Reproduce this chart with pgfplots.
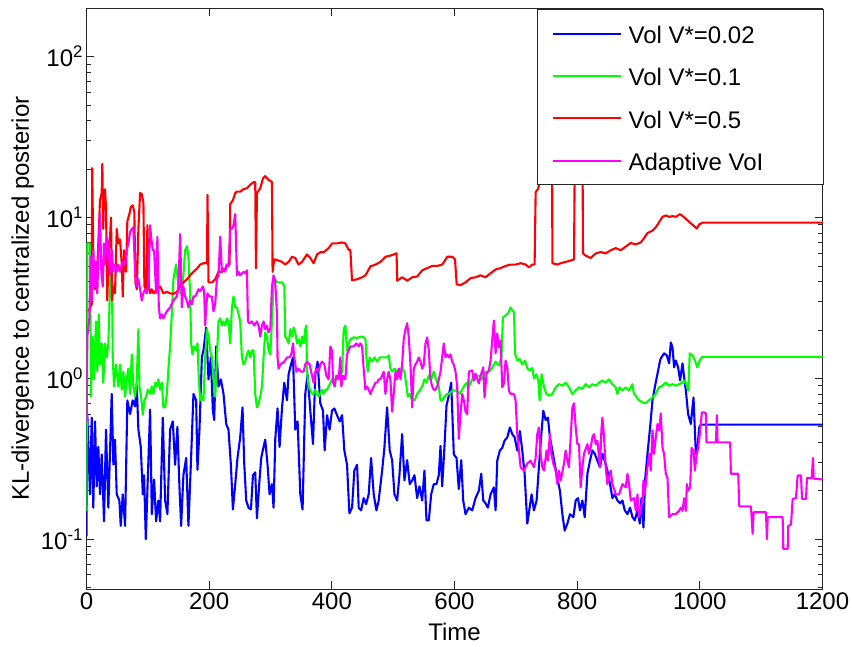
\documentclass[border=0pt]{standalone}
\usepackage{fontspec}
\setmainfont{Liberation Sans}
\usepackage{pgfplots}
\usepackage{pgfplotstable}
\pgfplotsset{compat=1.18}
\definecolor{mblue}{RGB}{0,0,255}
\definecolor{mgreen}{RGB}{0,255,0}
\definecolor{mred}{RGB}{255,0,0}
\definecolor{mmag}{RGB}{255,0,255}

\pgfplotstableread{
t v
0 0.104
1.3 0.60
5.7 0.19
8.5 0.57
11.1 0.157
13.9 0.54
16.7 0.213
19.3 0.375
22.0 0.19
24.8 0.336
28.6 0.129
31.8 0.48
35.6 0.157
38.4 0.356
41.1 0.80
43.8 0.291
46.5 0.416
49.3 0.19
53.6 0.174
55.8 0.121
59.1 0.19
62.9 0.121
66.6 0.73
71.0 0.60
75.4 0.73
79.2 0.67
82.0 0.89
84.6 0.48
88.5 0.375
91.8 0.19
93.9 0.25
96.7 0.10
99.9 0.235
103.7 0.64
106.5 0.143
110.2 0.235
113.5 0.129
117.2 0.174
120.0 0.129
124.4 0.57
128.2 0.174
131.9 0.143
136.3 0.48
140.7 0.54
144.5 0.29
148.2 0.50
151.5 0.213
154.3 0.121
158.0 0.25
162.5 0.32
166.2 0.121
170.1 0.29
174.4 0.80
178.8 0.73
180.9 0.27
184.2 0.48
188.1 1.35
190.7 1.49
195.1 2.07
198.9 0.985
202.8 1.35
206.0 0.63
208.2 0.55
211.4 1.58
215.2 0.89
219.1 0.985
223.4 0.80
227.8 0.52
231.5 0.48
235.4 0.29
238.7 0.153
242.5 0.22
246.2 0.32
250.6 0.43
254.4 0.66
257.1 0.30
260.4 0.174
264.2 0.157
268.1 0.153
271.4 0.25
275.1 0.26
277.9 0.135
281.6 0.22
284.9 0.32
288.7 0.375
291.4 0.416
295.2 0.29
298.5 0.19
302.4 0.22
305.0 0.157
307.8 0.42
311.5 0.65
314.8 0.375
318.7 0.65
322.5 0.94
326.9 0.73
329.5 1.06
333.4 1.22
336.7 1.35
340.4 0.48
344.2 0.54
348.6 0.19
352.3 0.153
356.7 0.80
360.5 1.06
364.9 0.63
369.3 0.39
373.1 1.06
376.8 1.27
381.2 0.70
385.6 0.63
388.3 0.356
392.2 0.59
396.4 0.48
400.3 0.63
404.1 0.65
408.5 0.59
412.8 0.54
416.7 0.59
420.4 0.356
424.8 0.29
428.6 0.145
433.0 0.157
436.7 0.267
441.2 0.29
443.8 0.157
447.7 0.151
451.9 0.18
455.8 0.165
460.1 0.19
464.0 0.32
468.3 0.19
472.7 0.151
476.4 0.174
482.0 0.267
485.7 0.37
490.1 0.66
494.4 0.356
498.3 0.31
502.1 0.19
506.5 0.174
510.2 0.25
514.6 0.45
518.4 0.232
522.8 0.31
527.0 0.22
531.0 0.232
534.7 0.25
539.1 0.18
542.9 0.213
547.3 0.174
551.0 0.267
554.3 0.131
558.1 0.131
562.0 0.19
566.2 0.22
570.6 0.22
574.4 0.25
577.2 0.38
579.9 0.213
583.7 0.38
587.0 0.68
590.7 0.78
594.6 0.94
598.9 0.336
603.3 0.32
607.0 0.205
611.0 0.31
614.2 0.174
618.0 0.143
623.4 0.157
628.9 0.151
634.3 0.18
639.7 0.20
643.6 0.255
646.9 0.174
650.6 0.167
654.4 0.157
658.8 0.19
664.2 0.21
667.0 0.151
669.7 0.308
674.0 0.356
677.9 0.37
681.6 0.41
686.1 0.43
690.3 0.495
694.2 0.45
698.0 0.43
702.4 0.356
706.6 0.47
710.5 0.356
714.3 0.255
718.7 0.125
722.5 0.157
725.7 0.19
729.5 0.151
733.9 0.174
737.6 0.28
741.6 0.45
744.8 0.63
748.6 0.55
752.3 0.57
755.6 0.43
759.5 0.356
763.3 0.295
767.7 0.24
771.9 0.20
775.9 0.143
779.6 0.113
784.0 0.125
788.3 0.143
793.8 0.137
797.6 0.174
801.3 0.18
804.6 0.151
808.5 0.174
812.3 0.137
816.7 0.255
820.9 0.308
824.8 0.356
828.6 0.34
833.0 0.308
837.2 0.28
841.2 0.34
844.9 0.308
849.3 0.267
853.6 0.22
857.5 0.18
861.3 0.19
865.7 0.174
869.9 0.167
873.8 0.174
877.6 0.151
882.0 0.143
886.2 0.157
890.2 0.137
893.9 0.131
898.3 0.151
902.1 0.125
904.8 0.18
908.1 0.118
910.7 0.232
914.6 0.34
918.9 0.495
922.8 0.73
926.6 0.88
931.0 1.07
935.2 1.29
936.4 1.33
941.7 1.43
946.1 1.39
949.9 1.24
952.7 1.67
955.4 1.56
958.1 1.17
960.8 1.29
964.6 1.17
967.8 0.97
971.8 1.24
974.4 1.01
977.2 0.84
980.9 0.60
985.3 0.52
989.7 0.76
993.5 0.34
996.3 0.37
998.9 0.495
1001.7 0.516
1200 0.516
}\tblue

\pgfplotstableread{
t v
0 0.15
1.3 6.9
5.7 6.9
7.3 0.77
10.0 1.82
12.2 0.985
15.5 2.26
17.7 1.10
19.9 2.50
22.0 1.22
24.8 1.65
27.4 0.94
30.2 1.65
32.9 1.35
35.6 1.65
38.4 3.73
41.1 5.66
42.8 1.35
44.9 0.89
48.2 1.22
52.0 0.89
54.7 1.22
57.5 0.85
60.1 1.10
62.9 0.77
65.6 0.985
68.2 1.15
71.0 0.80
73.8 1.41
76.4 0.89
79.2 0.77
82.0 0.985
84.6 2.02
86.3 0.89
89.0 0.77
91.8 0.595
94.4 0.73
97.2 0.77
99.9 0.85
103.7 0.80
106.5 0.89
109.1 0.80
111.9 0.94
114.6 0.89
117.2 0.985
120.0 0.85
122.8 0.94
125.4 0.66
128.2 0.66
131.0 0.80
133.6 1.15
136.3 1.58
139.1 2.50
141.7 4.13
146.1 5.12
148.9 4.13
151.5 3.38
155.4 3.58
158.0 4.37
160.8 6.26
163.6 6.63
166.2 5.66
169.0 3.38
170.6 1.65
172.7 1.41
175.5 1.58
178.8 1.49
180.9 1.65
183.2 0.985
185.3 0.73
188.1 0.77
190.7 0.73
193.5 1.35
196.3 2.02
198.9 1.82
201.7 1.49
204.5 1.35
207.1 0.985
209.9 0.77
212.6 1.35
215.2 2.26
218.0 2.36
220.8 2.13
223.4 2.26
226.2 2.13
229.0 2.36
231.5 2.26
234.3 1.65
237.1 2.76
239.7 3.23
242.5 2.76
245.3 2.76
247.9 2.50
250.6 2.26
253.4 1.35
256.0 1.22
258.8 1.27
261.6 1.41
264.2 1.49
267.0 1.35
269.8 1.49
272.4 1.49
275.1 0.80
277.9 0.66
280.6 0.70
283.3 0.77
286.1 0.89
288.7 1.35
291.4 1.93
294.2 1.82
297.0 1.49
299.6 1.41
302.4 2.26
305.0 3.73
307.8 4.13
310.6 3.95
314.8 3.95
319.2 3.95
322.5 3.73
324.1 1.82
326.9 1.75
329.5 1.65
332.3 2.02
335.1 1.82
337.7 2.07
340.4 1.93
343.2 1.65
345.8 1.75
348.6 1.58
351.4 1.82
354.0 1.65
356.7 2.02
358.4 2.13
359.5 1.10
362.1 0.89
364.9 0.85
367.7 0.80
370.3 0.80
373.1 0.85
375.9 0.80
378.5 0.77
381.2 0.80
384.0 0.85
386.6 0.80
389.4 0.85
392.2 0.85
394.8 0.89
397.6 0.94
400.3 0.985
402.9 0.985
405.7 0.985
408.5 1.04
411.1 0.985
413.9 1.04
416.7 1.10
419.3 2.02
422.1 2.13
424.8 1.49
427.5 1.65
430.2 1.75
435.6 1.80
441.2 1.78
446.6 1.82
452.0 1.80
454.8 1.75
456.4 1.35
458.5 1.10
461.8 1.35
465.8 1.27
469.5 1.35
473.9 1.27
478.1 1.35
482.0 1.35
485.7 1.35
490.1 1.35
492.8 1.39
495.5 1.15
498.3 1.10
502.1 1.15
506.5 1.10
510.7 1.15
514.6 1.15
518.4 1.10
521.7 0.89
523.9 0.77
527.0 0.80
531.0 0.73
534.7 0.73
539.1 0.80
543.3 0.84
547.3 0.89
551.0 0.985
554.3 0.94
558.1 1.04
562.0 0.985
566.2 1.10
570.2 0.985
574.4 0.89
577.2 0.73
579.9 0.73
583.7 0.77
588.1 0.80
591.8 0.80
596.2 0.84
600.0 0.84
604.4 0.84
608.6 0.80
615.3 0.89
619.6 0.94
623.4 0.89
628.9 0.985
634.3 1.04
639.7 1.04
645.2 0.985
650.6 1.10
656.1 1.10
661.5 1.16
666.9 1.27
672.3 1.20
676.6 1.35
678.9 2.39
683.2 2.46
687.6 2.54
691.4 2.76
694.2 2.65
697.0 2.58
698.6 1.43
702.4 1.29
706.1 1.32
710.5 1.22
714.9 1.29
718.7 1.16
722.5 1.12
726.9 1.16
729.6 1.00
733.4 1.06
736.7 0.97
738.8 0.73
742.1 1.06
746.0 0.88
749.8 0.80
754.2 0.78
759.5 0.80
765.0 0.88
770.4 0.92
775.8 0.90
781.3 0.94
786.7 0.88
792.1 0.80
797.6 0.84
803.0 0.88
808.4 0.86
813.9 0.92
819.3 0.88
824.7 0.92
830.2 0.90
835.6 0.94
841.0 0.97
846.4 0.94
851.9 0.985
857.3 0.92
862.7 0.88
865.5 0.80
869.2 0.88
873.6 0.84
879.0 0.88
884.5 0.84
889.9 0.92
892.6 0.80
895.4 0.78
900.8 0.73
906.3 0.71
911.7 0.70
917.1 0.73
922.6 0.76
928.0 0.80
933.4 0.88
938.9 0.90
944.3 0.94
949.8 0.90
955.2 0.92
960.6 0.90
966.1 0.92
971.5 0.94
974.3 0.97
977.0 0.94
981.4 0.84
983.5 1.43
987.9 1.39
992.2 1.29
996.0 1.17
999.7 1.29
1003.9 1.36
1200 1.36
}\tgreen

\pgfplotstableread{
t v
2.9 2.61
8.5 2.89
9.3 20.3
11.1 5.66
13.9 3.58
16.7 4.13
19.3 6.9
22.0 12.8
24.8 14.2
25.8 21.6
27.4 8.5
28.6 14.2
30.2 15.0
31.8 11.6
33.9 3.05
36.2 6.26
38.4 7.6
40.0 10.0
41.6 3.05
43.8 3.73
46.5 3.38
49.3 8.5
51.9 6.9
54.7 7.3
57.5 5.12
59.1 3.23
61.2 6.26
64.5 4.6
66.6 9.5
69.9 10.5
72.2 11.6
75.4 11.9
78.0 10.8
79.7 3.95
82.0 3.58
84.6 8.5
87.4 14.2
90.2 14.0
92.8 12.3
94.4 3.73
97.2 3.58
99.3 8.96
101.6 3.73
103.7 3.38
106.5 3.58
109.1 3.38
114.6 3.58
120.0 3.73
125.4 3.38
131.0 3.45
136.3 3.38
141.7 3.35
147.3 3.45
152.6 3.73
158.0 3.95
163.6 4.13
169.0 4.37
174.4 4.6
179.9 4.8
185.3 5.1
190.7 5.2
196.5 5.2
197.3 13.8
198.9 3.95
204.5 3.95
209.9 4.13
215.2 4.6
220.8 4.6
226.2 4.8
229.0 5.1
233.3 5.1
234.3 12.1
238.7 12.8
242.5 14.2
245.3 14.5
250.6 14.5
256.0 15.0
261.6 15.2
267.0 16.0
272.4 16.6
275.1 16.6
276.3 4.83
277.9 14.2
283.3 15.2
287.7 17.5
291.4 18.1
296.9 17.1
299.6 16.9
302.4 16.6
303.4 4.6
306.1 5.5
313.2 5.4
318.7 5.3
324.1 5.1
329.5 5.3
335.1 5.7
340.4 5.6
345.8 5.1
351.4 5.3
359.5 5.9
364.9 5.6
370.3 5.2
375.9 5.9
381.2 6.08
386.6 6.08
394.8 6.45
400.3 6.9
408.5 6.9
416.7 7.0
422.1 6.9
427.5 6.3
430.2 6.3
432.9 4.07
441.2 4.13
449.4 4.25
454.8 4.37
463.0 4.97
471.2 5.1
479.4 5.3
487.5 5.7
495.7 5.8
501.2 5.9
505.5 6.0
506.6 4.05
514.8 4.25
522.9 4.05
531.1 4.25
539.3 4.3
547.4 4.7
555.6 4.85
563.8 5.0
572.0 5.0
580.1 5.1
588.3 5.7
596.5 5.7
600.8 5.5
603.6 3.84
609.9 3.8
618.0 3.95
626.2 4.2
634.3 4.25
642.5 4.37
650.6 4.25
658.8 4.5
667.0 4.75
675.2 4.85
683.3 5.0
691.5 5.1
699.7 5.1
707.8 5.2
716.0 5.1
721.4 4.9
726.9 5.1
730.6 5.1
732.3 14.4
736.0 15.0
739.3 16.6
741.0 40
759.0 40
759.6 5.2
767.7 5.1
773.2 5.2
781.3 5.3
789.5 5.4
794.9 5.5
796.5 40
808.5 40
809.5 5.98
813.9 5.8
822.0 5.6
830.2 5.98
838.4 6.1
846.5 5.98
854.7 6.26
862.9 6.45
871.0 6.26
879.2 6.6
887.4 6.95
895.5 6.8
903.7 7.0
909.1 7.45
914.6 8.0
922.8 8.3
928.2 8.7
933.6 9.35
939.1 10.1
944.5 10.3
949.9 10.1
955.4 10.2
960.8 10.1
967.8 10.5
973.4 10.1
978.8 9.7
985.3 9.2
990.7 8.84
995.1 8.54
998.9 9.06
1004.5 9.3
1200 9.3
}\tred

\pgfplotstableread{
t v
0.3 0.54
1.3 1.82
4.6 2.36
6.9 5.66
9.0 3.05
11.1 6.26
13.4 3.73
15.5 5.34
17.6 3.38
19.9 6.9
22.0 10.5
24.2 4.6
26.5 3.73
28.6 6.9
30.2 5.1
33.0 7.6
35.6 6.9
38.4 4.37
41.1 6.26
43.8 4.6
46.5 5.1
49.3 4.6
51.9 5.1
54.7 4.6
57.5 5.1
60.1 5.34
62.9 5.1
65.6 6.26
68.2 6.9
71.0 8.1
73.8 8.5
76.4 8.7
79.2 4.6
82.0 3.73
84.6 4.13
87.4 3.58
90.1 3.05
92.7 3.38
95.5 3.58
98.3 3.38
100.9 3.73
103.7 8.96
105.3 7.6
108.1 6.26
110.2 6.26
113.5 3.38
115.6 7.6
117.9 2.76
120.0 2.36
122.8 2.5
125.4 2.36
128.2 2.5
131.0 2.61
136.3 2.76
141.7 3.05
147.3 3.23
149.9 3.73
152.7 7.9
155.4 2.76
158.0 3.73
160.8 3.23
163.6 3.05
166.2 2.76
169.0 3.05
171.8 2.89
174.4 3.23
177.1 3.23
179.9 3.38
182.5 3.58
185.3 3.48
189.7 3.73
191.8 3.48
193.5 2.13
195.1 2.76
197.2 3.38
200.5 3.23
204.4 3.23
207.0 2.61
209.8 2.89
212.6 4.13
215.2 4.37
218.0 7.6
220.8 4.6
223.4 4.83
226.2 4.6
228.9 5.1
231.5 4.97
234.3 8.5
237.1 8.5
239.7 8.96
242.5 10.5
245.3 4.37
247.8 4.6
250.6 4.37
256.0 4.6
258.8 4.5
261.6 4.7
263.2 2.26
265.8 2.2
269.7 2.26
273.5 2.13
277.9 2.26
280.5 2.13
283.3 1.82
286.1 2.13
288.7 2.26
291.4 2.02
294.2 2.13
296.8 1.93
299.6 2.02
302.4 3.73
305.0 4.37
307.8 3.95
310.6 2.5
311.5 1.35
313.2 1.15
315.9 1.22
322.5 1.27
326.9 1.35
331.1 1.35
333.9 1.41
336.7 1.65
338.8 1.35
342.1 1.10
345.8 1.15
349.7 1.10
354.0 1.10
356.7 1.22
359.5 1.27
363.8 1.22
367.7 1.04
370.3 0.94
373.1 1.10
375.9 1.15
378.5 1.10
381.2 1.22
384.0 1.27
387.8 1.22
391.0 1.04
394.8 0.985
397.6 1.58
400.3 1.49
402.0 0.94
404.6 0.89
407.4 1.04
411.1 0.985
413.9 1.35
415.5 0.89
418.3 1.04
422.1 0.985
424.8 1.41
427.4 1.49
430.2 1.58
435.6 1.58
440.0 1.65
443.8 1.58
446.5 1.65
449.3 1.58
451.9 1.15
454.7 0.85
457.5 0.89
460.1 0.85
462.9 0.80
465.6 0.85
468.3 0.89
471.1 0.94
473.8 0.94
476.4 0.985
479.2 0.985
482.0 1.04
484.6 1.10
487.4 0.80
490.1 0.985
492.7 1.10
495.5 0.985
498.3 0.62
500.9 0.80
503.7 1.10
506.5 0.985
509.1 1.15
511.9 0.985
514.6 1.22
517.2 1.75
520.0 2.02
522.8 2.2
525.4 1.82
528.2 1.22
531.0 0.66
533.6 1.15
536.4 1.22
539.1 1.27
541.7 1.35
544.5 1.27
547.3 1.15
549.9 1.22
552.7 1.65
555.4 1.8
558.1 1.49
560.8 0.985
563.6 0.89
566.2 0.85
569.0 0.85
571.8 0.89
574.4 0.985
577.2 1.10
579.9 1.35
582.5 1.65
585.3 1.35
588.1 1.41
590.7 1.35
593.5 1.41
596.2 1.27
598.9 1.22
601.7 1.10
604.4 0.89
607.0 0.42
609.8 0.60
612.6 0.80
615.2 0.73
618.0 0.62
620.7 0.60
623.4 1.10
628.9 1.12
631.5 0.97
634.3 1.07
639.7 0.93
643.6 1.07
646.9 1.17
649.0 0.76
652.3 1.07
656.0 1.12
658.8 1.29
661.5 1.72
664.2 2.29
667.0 1.43
669.7 1.90
672.3 1.56
675.1 1.72
677.9 0.88
680.5 0.93
683.3 1.29
686.1 1.17
688.7 0.84
691.5 0.80
696.9 0.80
699.6 0.73
702.4 0.45
705.0 0.356
707.8 0.28
713.2 0.267
718.7 0.295
724.1 0.308
729.5 0.28
732.3 0.32
735.0 0.45
737.6 0.495
740.4 0.34
743.2 0.28
745.8 0.267
750.2 0.356
752.3 0.308
755.6 0.45
757.9 0.34
761.2 0.295
764.9 0.267
767.7 0.22
770.3 0.267
773.1 0.232
778.5 0.295
781.2 0.356
784.0 0.308
786.6 0.28
789.4 0.43
792.2 0.66
794.8 0.70
797.6 0.495
800.3 0.39
803.0 0.39
805.7 0.21
808.5 0.28
811.1 0.34
816.7 0.39
819.3 0.34
822.0 0.37
824.8 0.43
827.4 0.45
830.2 0.39
833.0 0.41
837.2 0.28
839.5 0.475
841.2 0.57
843.8 0.43
846.5 0.28
849.3 0.22
854.7 0.267
857.5 0.22
862.9 0.19
868.3 0.19
873.8 0.22
879.2 0.21
882.0 0.255
884.6 0.22
887.4 0.174
892.8 0.18
895.5 0.151
898.3 0.19
900.9 0.137
906.5 0.174
908.1 0.232
910.2 0.19
911.9 0.22
914.6 0.28
917.3 0.34
920.0 0.267
922.8 0.475
925.4 0.34
928.2 0.43
931.0 0.52
933.6 0.475
936.4 0.605
939.1 0.37
941.7 0.34
944.5 0.255
947.3 0.24
949.9 0.137
955.4 0.143
960.8 0.143
966.2 0.15
969.0 0.157
971.8 0.15
974.4 0.18
977.2 0.15
978.8 0.22
980.9 0.20
984.2 0.21
986.5 0.37
989.7 0.356
991.9 0.267
995.1 0.34
997.3 0.37
1000.6 0.475
1003.3 0.615
1007.1 0.615
1009.8 0.605
1010.9 0.40
1026.2 0.40
1027.8 0.59
1028.9 0.40
1049.5 0.40
1050.6 0.255
1062.6 0.255
1064.2 0.16
1083.3 0.16
1086.1 0.108
1087.7 0.147
1107.8 0.147
1109.4 0.10
1110.6 0.137
1135.0 0.137
1136.1 0.087
1143.2 0.087
1144.2 0.121
1148.6 0.123
1151.4 0.178
1156.8 0.18
1159.5 0.249
1164.9 0.249
1166.6 0.178
1173.1 0.178
1174.7 0.24
1182.4 0.24
1184.5 0.32
1185.7 0.238
1200 0.235
}\tmag

\begin{document}
\begin{tikzpicture}
\begin{axis}[
  name=ax,
  scale only axis,
  width=736pt, height=580.7pt,
  xmin=0, xmax=1200, ymin=0.049, ymax=200,
  ymode=log,
  xtick={0,200,...,1200},
  ytick={0.1,1,10,100},
  yticklabels={10\textsuperscript{-1},10\textsuperscript{0},10\textsuperscript{1},10\textsuperscript{2}},
  minor ytick={0.05,0.06,0.07,0.08,0.09,0.2,0.3,0.4,0.5,0.6,0.7,0.8,0.9,2,3,4,5,6,7,8,9,20,30,40,50,60,70,80,90,200},
  tick align=inside,
  major tick length=8pt, minor tick length=5pt,
  tick style={black!85, line width=0.8pt},
  axis line style={black!85, line width=0.8pt},
  tick label style={font=\fontsize{24}{28}\selectfont},
  label style={font=\fontsize{24}{28}\selectfont},
  /pgf/number format/assume math mode=true,
  /pgf/number format/1000 sep={},
  scaled x ticks=false,
  xlabel={Time},
  ylabel={KL-divergence to centralized posterior},
  xlabel style={yshift=-7pt},
  legend cell align=left,
  legend style={at={(1,1)}, anchor=north east, xshift=1.5pt, yshift=-1pt,
    draw=black!85, line width=0.8pt, fill=white,
    font=\fontsize{24}{28}\selectfont,
    inner xsep=14pt, inner ysep=9pt, row sep=12.2pt,
    nodes={inner sep=0pt, text height=25pt, text depth=5.1pt},
    /tikz/every odd column/.append style={column sep=7pt}},
  legend image code/.code={\draw[#1] (0pt,0pt) -- (68pt,0pt);},
  every axis plot/.append style={line width=2.1pt, line join=round},
]
\addplot[mblue] table[x=t,y=v] {\tblue};
\addlegendentry{\makebox[181pt][l]{Vol V*=0.02}}
\addplot[mgreen] table[x=t,y=v] {\tgreen};
\addlegendentry{\makebox[181pt][l]{Vol V*=0.1}}
\addplot[mred] table[x=t,y=v] {\tred};
\addlegendentry{\makebox[181pt][l]{Vol V*=0.5}}
\addplot[mmag] table[x=t,y=v] {\tmag};
\addlegendentry{\makebox[181pt][l]{Adaptive VoI}}
\end{axis}
\pgfresetboundingbox
\path ([shift={(-86.5pt,-58pt)}]ax.south west) rectangle ([shift={(29.5pt,8.3pt)}]ax.north east);
\end{tikzpicture}
\end{document}
